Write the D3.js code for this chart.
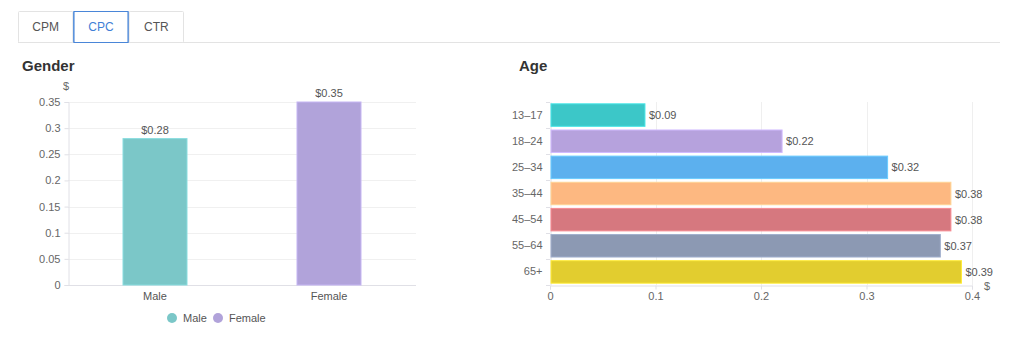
<!DOCTYPE html>
<html><head><meta charset="utf-8">
<script src="https://cdn.jsdelivr.net/npm/d3@7"></script>
<style>
body{margin:0;background:#fff;font-family:"Liberation Sans",Arial,sans-serif;}
svg{display:block;}
</style></head>
<body><svg id="c" width="1024" height="346"></svg>
<script>
const tabs = ["CPM","CPC","CTR"];
const activeTab = "CPC";
const genderCats = ["Male","Female"];
const genderValues = [0.28, 0.35];
const genderColors = ["#7bc7c8","#b1a3da"];
const genderTicks = [0,0.05,0.1,0.15,0.2,0.25,0.3,0.35];
const ageCats = ["13–17","18–24","25–34","35–44","45–54","55–64","65+"];
const ageValues = [0.09,0.22,0.32,0.38,0.38,0.37,0.39];
const ageColors = ["#3cc7c8","#b6a2dd","#5cb0ee","#fdb881","#d6787f","#8c99b3","#e2cd2f"];
const ageTicks = [0,0.1,0.2,0.3,0.4];

const svg = d3.select("#c");
const fmt = v => "$" + v.toFixed(2);

// tabs
const tabX = d3.scaleBand().domain(tabs).range([18,184]);
svg.append("line").attr("x1",18).attr("x2",1000).attr("y1",42.5).attr("y2",42.5).attr("stroke","#e3e3e3");
tabs.forEach(t=>{
  const act = t===activeTab;
  svg.append("rect").attr("x",tabX(t)+0.5).attr("y",11.5).attr("width",tabX.bandwidth()-1).attr("height",31)
    .attr("fill","#fff").attr("stroke",act?"#4a86d8":"#e3e3e3").attr("rx",1);
  svg.append("text").attr("x",tabX(t)+tabX.bandwidth()/2).attr("y",31).attr("text-anchor","middle")
    .attr("font-size",12).attr("fill",act?"#3f7fd6":"#555").text(t);
});
// re-draw active on top
{
  const t=activeTab;
  svg.append("rect").attr("x",tabX(t)+0.5).attr("y",11.5).attr("width",tabX.bandwidth()-1).attr("height",31)
    .attr("fill","none").attr("stroke","#4a86d8");
}

// titles
svg.append("text").attr("x",22).attr("y",71).attr("font-size",15).attr("font-weight","bold").attr("fill","#333").text("Gender");
svg.append("text").attr("x",519).attr("y",71).attr("font-size",15).attr("font-weight","bold").attr("fill","#333").text("Age");

// ---- Gender chart
const gx = d3.scaleBand().domain(genderCats).range([68,416]);
const gy = d3.scaleLinear().domain([0,0.35]).range([285,102]);
const g1 = svg.append("g");
g1.selectAll("line.grid").data(genderTicks).join("line").attr("class","grid")
  .attr("x1",68).attr("x2",416).attr("y1",d=>Math.round(gy(d))+0.5).attr("y2",d=>Math.round(gy(d))+0.5)
  .attr("stroke",d=>d===0?"#e0e0e6":"#f0f0f0");
const gyAxis = g1.append("g").attr("transform","translate(68.5,0)")
  .call(d3.axisLeft(gy).tickValues(genderTicks).tickFormat(d=>d3.format("~g")(d)).tickSize(4).tickPadding(4));
gyAxis.select(".domain").attr("stroke","#e0e0e6");
gyAxis.selectAll(".tick line").attr("stroke","#e0e0e6");
gyAxis.selectAll("text").attr("fill","#666").attr("font-size",11).attr("font-family","Liberation Sans,Arial,sans-serif");
g1.append("text").attr("x",66).attr("y",90).attr("text-anchor","middle").attr("font-size",11).attr("fill","#666").text("$");
const bw = 64;
g1.selectAll("rect.bar").data(genderCats).join("rect").attr("class","bar")
  .attr("x",d=>gx(d)+gx.bandwidth()/2-bw/2).attr("width",bw)
  .attr("y",(d,i)=>gy(genderValues[i])).attr("height",(d,i)=>gy(0)-gy(genderValues[i]))
  .attr("fill",(d,i)=>genderColors[i]).attr("stroke",(d,i)=>d3.color(genderColors[i]).brighter(0.3)).attr("stroke-width",1);
g1.selectAll("text.val").data(genderCats).join("text").attr("class","val")
  .attr("x",d=>gx(d)+gx.bandwidth()/2).attr("y",(d,i)=>gy(genderValues[i])-5).attr("text-anchor","middle")
  .attr("font-size",11).attr("fill","#555").text((d,i)=>fmt(genderValues[i]));
g1.selectAll("text.cat").data(genderCats).join("text").attr("class","cat")
  .attr("x",d=>gx(d)+gx.bandwidth()/2).attr("y",300).attr("text-anchor","middle")
  .attr("font-size",11).attr("fill","#555").text(d=>d);
// legend
const legX = [172,218];
genderCats.forEach((c,i)=>{
  svg.append("circle").attr("cx",legX[i]).attr("cy",318).attr("r",5).attr("fill",genderColors[i]);
  svg.append("text").attr("x",legX[i]+11).attr("y",322).attr("font-size",11).attr("fill","#555").text(c);
});

// ---- Age chart
const ax = d3.scaleLinear().domain([0,0.4]).range([550,972]);
const ay = d3.scaleBand().domain(ageCats).range([102,285]).paddingInner(0.14).paddingOuter(0.07);
const g2 = svg.append("g");
g2.selectAll("line.grid").data(ageTicks.slice(1)).join("line").attr("class","grid")
  .attr("y1",102).attr("y2",285).attr("x1",d=>Math.round(ax(d))+0.5).attr("x2",d=>Math.round(ax(d))+0.5)
  .attr("stroke","#efefef");
const axX = g2.append("g").attr("transform","translate(0,285.5)")
  .call(d3.axisBottom(ax).tickValues(ageTicks).tickFormat(d=>d3.format("~g")(d)).tickSize(4).tickPadding(3));
axX.select(".domain").attr("stroke","#e0e0e6");
axX.selectAll(".tick line").attr("stroke","#e0e0e6");
axX.selectAll("text").attr("fill","#666").attr("font-size",11).attr("font-family","Liberation Sans,Arial,sans-serif");
const ayBand = d3.scaleBand().domain(ageCats).range([102,285]);
const axY = g2.append("g").attr("transform","translate(550.5,0)")
  .call(d3.axisLeft(ayBand).tickSize(0).tickPadding(8));
axY.select(".domain").attr("stroke","#e0e0e6");
axY.selectAll("text").attr("fill","#666").attr("font-size",11).attr("font-family","Liberation Sans,Arial,sans-serif");
// band boundary ticks
g2.selectAll("line.bt").data(ageCats.concat(["end"])).join("line").attr("class","bt")
  .attr("x1",546).attr("x2",550).attr("y1",(d,i)=>Math.round(102+i*ayBand.step())+0.5).attr("y2",(d,i)=>Math.round(102+i*ayBand.step())+0.5)
  .attr("stroke","#e0e0e6");
g2.selectAll("rect.bar").data(ageCats).join("rect").attr("class","bar")
  .attr("x",ax(0)+1).attr("y",d=>ay(d)).attr("height",ay.bandwidth())
  .attr("width",(d,i)=>ax(ageValues[i])-ax(0)-1)
  .attr("fill",(d,i)=>ageColors[i]).attr("stroke",(d,i)=>d3.color(ageColors[i]).brighter(0.4)).attr("stroke-width",1);
g2.selectAll("text.val").data(ageCats).join("text").attr("class","val")
  .attr("x",(d,i)=>ax(ageValues[i])+4).attr("y",d=>ay(d)+ay.bandwidth()/2+4)
  .attr("font-size",11).attr("fill","#555").text((d,i)=>fmt(ageValues[i]));
g2.append("text").attr("x",987).attr("y",290).attr("text-anchor","middle").attr("font-size",11).attr("fill","#666").text("$");
</script></body></html>
